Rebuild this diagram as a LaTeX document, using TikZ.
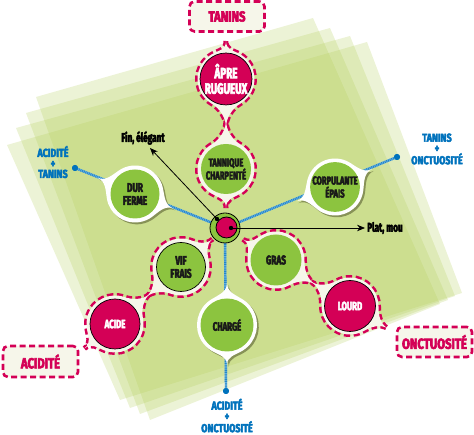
\documentclass[tikz,border=0pt]{standalone}
\usepackage{fontspec}
\newfontfamily\cf[FakeStretch=0.78, FakeBold=4]{Fira Sans}
\newfontfamily\cn[FakeStretch=0.66, FakeBold=4]{Fira Sans}
\usetikzlibrary{calc,arrows.meta}
\definecolor{mag}{RGB}{212,0,86}
\definecolor{leaf}{RGB}{140,196,63}
\definecolor{cream}{RGB}{246,246,234}
\definecolor{sheet}{RGB}{180,207,92}
\definecolor{bluet}{RGB}{0,114,188}
\definecolor{bluel}{RGB}{110,180,228}
\definecolor{shadowc}{RGB}{90,95,50}
\newcommand\labfont{\cn\bfseries\fontsize{12}{13}\selectfont}
\def\bt{9}
\def\bk{9}
% bubble: #1 centre, #2 radius, #3 angle a, #4 apex distance a, #5 angle b (>a), #6 apex distance b, #7 half-width angle, #8 style
\newcommand\bubble[8]{\path[#8]
 ($(#1)+({#3}:{#4})$)
 .. controls ($(#1)+({#3}:{#4-\bk})$) and ($(#1)+({#3+#7}:{#2})+({#3+#7-90}:{\bt})$) .. ($(#1)+({#3+#7}:{#2})$)
 arc[start angle={#3+#7}, end angle={#5-#7}, radius=#2]
 .. controls ($(#1)+({#5-#7}:{#2})+({#5-#7+90}:{\bt})$) and ($(#1)+({#5}:{#6-\bk})$) .. ($(#1)+({#5}:{#6})$)
 .. controls ($(#1)+({#5}:{#6-\bk})$) and ($(#1)+({#5+#7}:{#2})+({#5+#7-90}:{\bt})$) .. ($(#1)+({#5+#7}:{#2})$)
 arc[start angle={#5+#7}, end angle={#3+360-#7}, radius=#2]
 .. controls ($(#1)+({#3-#7}:{#2})+({#3-#7+90}:{\bt})$) and ($(#1)+({#3}:{#4-\bk})$) .. cycle;}
\begin{document}
\begin{tikzpicture}[x=1pt,y=1pt,
  sheetfill/.style={fill=sheet, fill opacity=0.25},
  ringstroke/.style={draw=mag, line width=5pt, dash pattern=on 6pt off 3.5pt},
  ringfill/.style={fill=cream},
  wbub/.style={fill=white},
  wshadow/.style={fill=shadowc, fill opacity=0.6},
  gcirc/.style={circle, fill=leaf, inner sep=0pt, minimum size=50pt, align=center, text=black!90, font=\labfont},
  mcirc/.style={circle, fill=mag, draw=black, line width=0.7pt, inner sep=0pt, minimum size=50pt, align=center, text=white, font=\labfont},
  axbox/.style={draw=mag, line width=2.6pt, dash pattern=on 6pt off 3.5pt, fill=cream, rounded corners=5pt, text=mag, inner sep=0pt, font=\cf\bfseries\fontsize{14.5}{16}\selectfont},
  bluelab/.style={text=bluet, align=center, inner sep=0pt, font=\cf\bfseries\fontsize{11.5}{10.5}\selectfont},
  bluebase/.style={bluel, line width=2.4pt},
  bluedots/.style={bluet!85, line width=2.4pt, dash pattern=on 0.9pt off 0.9pt},
  bdot/.style={circle, fill=bluet, minimum size=6pt, inner sep=0pt},
  arr/.style={black, line width=0.8pt, -{Stealth[length=8pt,width=6.5pt]}},
  blab/.style={text=black, inner sep=2pt, font=\cn\bfseries\fontsize{12.5}{13}\selectfont}
]
\useasboundingbox (0,0) rectangle (474,435);
% background sheets (image y -> 435-y)
\fill[sheetfill] (36,338) -- (313,417) -- (440,131) -- (150,15) -- cycle;
\fill[sheetfill] (26,322) -- (330,407) -- (448,135) -- (140,21) -- cycle;
\fill[sheetfill] (16,307) -- (350,399) -- (455,139) -- (130,27) -- cycle;
\fill[sheetfill] (7,290) -- (367,393) -- (462,142) -- (120,35) -- cycle;

% centres
\coordinate (cO) at (225,207);
\coordinate (cApre) at (226,356);
\coordinate (cTan) at (226,266);
\coordinate (cDur) at (135,241);
\coordinate (cCorp) at (335,248);
\coordinate (cVif) at (181,168);
\coordinate (cGras) at (276,175);
\coordinate (cAcide) at (115,111);
\coordinate (cLourd) at (350,129);
\coordinate (cCharge) at (227,110);

% blue dots
\node[bdot] (dAT) at (75,267) {};
\node[bdot] (dTO) at (397,278) {};
\node[bdot] (dAO) at (226,44) {};

% blue lines
\draw[bluebase] (cO) -- (dAT.center);
\draw[bluedots] (cO) -- (dAT.center);
\draw[bluebase] (cO) -- (dTO.center);
\draw[bluedots] (cO) -- (dTO.center);
\draw[bluebase] (cO) -- (dAO.center);
\draw[bluedots] (cO) -- (dAO.center);
\node[bdot] at (dAT) {};
\node[bdot] at (dTO) {};
\node[bdot] at (dAO) {};

% white bubbles with shadows
\coordinate (cDurS) at ($(cDur)+(1.8,-1.8)$);
\coordinate (cCorpS) at ($(cCorp)+(1.8,-1.8)$);
\coordinate (cChargeS) at ($(cCharge)+(1.8,-1.8)$);
\bubble{cDurS}{28.5}{156.6}{41}{339.3}{41}{32}{wshadow}
\bubble{cCorpS}{28.5}{25.8}{41}{200.4}{41}{32}{wshadow}
\bubble{cChargeS}{30}{90}{42}{270}{40}{32}{wshadow}
\bubble{cDur}{28.5}{156.6}{41}{339.3}{41}{32}{wbub}
\bubble{cCorp}{28.5}{25.8}{41}{200.4}{41}{32}{wbub}
\bubble{cCharge}{30}{90}{42}{270}{40}{32}{wbub}

% dashed bubbles: strokes then fills
\bubble{cApre}{28.5}{90}{38}{270}{48}{30}{ringstroke}
\bubble{cTan}{28.5}{90}{48}{270}{39}{30}{ringstroke}
\bubble{cVif}{28.5}{41.6}{42}{220.8}{46}{30}{ringstroke}
\bubble{cAcide}{28.5}{40.8}{46}{218.7}{39}{30}{ringstroke}
\bubble{cGras}{28.5}{147.9}{39}{328.1}{46}{30}{ringstroke}
\bubble{cLourd}{28.5}{148.1}{46}{329.3}{44}{30}{ringstroke}
\bubble{cApre}{28.5}{90}{38}{270}{48}{30}{ringfill}
\bubble{cTan}{28.5}{90}{48}{270}{39}{30}{ringfill}
\bubble{cVif}{28.5}{41.6}{42}{220.8}{46}{30}{ringfill}
\bubble{cAcide}{28.5}{40.8}{46}{218.7}{39}{30}{ringfill}
\bubble{cGras}{28.5}{147.9}{39}{328.1}{46}{30}{ringfill}
\bubble{cLourd}{28.5}{148.1}{46}{329.3}{44}{30}{ringfill}

% coloured circles
\node[mcirc, minimum size=48pt, font=\cn\bfseries\fontsize{15}{15.5}\selectfont] (apre) at (cApre) {ÂPRE\\RUGUEUX};
\node[gcirc, font=\cn\bfseries\fontsize{11.5}{13}\selectfont] (tan) at (cTan) {TANNIQUE\\CHARPENTÉ};
\node[gcirc, minimum size=49pt, font=\cn\bfseries\fontsize{12.5}{13}\selectfont] (dur) at (cDur) {DUR\\FERME};
\node[gcirc, minimum size=49pt, font=\cn\bfseries\fontsize{11.5}{13}\selectfont] (corp) at (cCorp) {CORPULANTE\\ÉPAIS};
\node[gcirc, draw=black, line width=0.7pt, minimum size=49pt, font=\cn\bfseries\fontsize{12.5}{13}\selectfont] (vif) at (cVif) {VIF\\FRAIS};
\node[gcirc, minimum size=51pt, font=\cn\bfseries\fontsize{12.5}{13}\selectfont] (gras) at (cGras) {GRAS};
\node[mcirc] (acide) at (cAcide) {ACIDE};
\node[mcirc, minimum size=51pt] (lourd) at (cLourd) {LOURD};
\node[gcirc, minimum size=53pt] (charge) at (cCharge) {CHARGÉ};

% centre
\node[circle, fill=leaf, draw=black, line width=0.8pt, minimum size=30pt, inner sep=0pt] (ctr) at (cO) {};
\node[circle, fill=mag, draw=black, line width=0.8pt, minimum size=21pt, inner sep=0pt] (ctrin) at (226.5,207.5) {};

% arrows
\node[blab] (fin) at (143,297) {Fin, élégant};
\node[blab] (plat) at (385,207) {Plat, mou};
\coordinate (a1s) at (217,216);
\coordinate (a1e) at (150,287);
\coordinate (a2s) at (231,207);
\draw[arr] (a1s) -- (a1e);
\draw[arr] (a2s) -- (plat.west);
\fill (a1s) circle (2.2pt);
\fill (a2s) circle (2.2pt);

% axis boxes
\node[axbox, minimum width=75pt, minimum height=30pt] (tanins) at (227,418.5) {TANINS};
\node[axbox, minimum width=75pt, minimum height=31pt] (acidite) at (40.5,73.5) {ACIDITÉ};
\node[axbox, minimum width=75pt, minimum height=30pt] (onct) at (434.5,93) {ONCTUOSITÉ};

% blue labels
\node[bluelab] (lAT) at (53,273) {ACIDITÉ\\+\\TANINS};
\node[bluelab] (lTO) at (437,286) {TANINS\\+\\ONCTUOSITÉ};
\node[bluelab] (lAO) at (227,19.5) {ACIDITÉ\\+\\ONCTUOSITÉ};
\end{tikzpicture}
\end{document}
